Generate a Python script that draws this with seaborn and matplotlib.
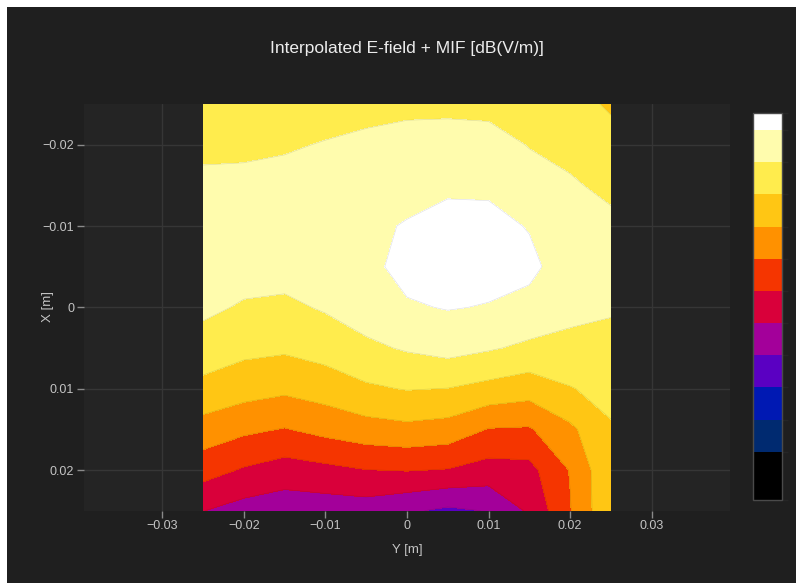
import numpy as np
import seaborn as sns
import matplotlib.pyplot as plt
from matplotlib.colors import ListedColormap, BoundaryNorm
from matplotlib.colorbar import ColorbarBase
from matplotlib.patches import Rectangle
from matplotlib.ticker import FuncFormatter

# grid positions (m)
y_pos = [-0.025, -0.02, -0.015, -0.01, -0.005, 0.0, 0.005, 0.01, 0.015, 0.02, 0.025]
x_pos = [-0.025, -0.02, -0.015, -0.01, -0.005, 0.0, 0.005, 0.01, 0.015, 0.02, 0.025]

# E-field + MIF [dB(V/m)], rows follow x_pos, columns follow y_pos
field = [
    [118.6, 118.6, 118.55, 118.6, 118.7, 118.8, 118.8, 118.7, 118.5, 118.4, 117.85],
    [118.8, 118.8, 118.9, 119.05, 119.2, 119.3, 119.35, 119.4, 118.95, 118.75, 118.4],
    [119.2, 119.25, 119.3, 119.45, 119.6, 119.75, 119.85, 119.85, 119.45, 119.1, 118.8],
    [119.5, 119.5, 119.55, 119.7, 119.85, 120.05, 120.3, 120.25, 119.95, 119.5, 119.2],
    [119.5, 119.4, 119.4, 119.6, 119.75, 120.3, 120.4, 120.35, 120.2, 119.55, 119.35],
    [119.2, 118.9, 118.8, 119.1, 119.5, 119.9, 120.05, 119.95, 119.75, 119.3, 119.1],
    [118.6, 118.25, 118.15, 118.4, 118.8, 119.1, 119.35, 119.1, 118.8, 118.7, 118.7],
    [117.7, 117.4, 117.2, 117.45, 117.85, 118.05, 117.98, 117.7, 117.45, 117.95, 118.3],
    [116.6, 116.2, 115.95, 116.3, 116.6, 116.75, 116.6, 115.95, 115.9, 116.8, 117.9],
    [115.4, 114.9, 114.55, 114.75, 114.98, 115.05, 114.95, 114.6, 114.7, 116.05, 117.9],
    [114.02, 113.6, 113.4, 113.45, 113.5, 113.15, 112.8, 113.05, 114.15, 115.95, 117.9],
]

contour_levels = [110, 111, 112, 113, 114, 115, 116, 117, 118, 119, 120]
z_min, z_max = 108.5, 120.53

level_colors = ["#000000", "#002a70", "#0019b3", "#5a00c2", "#a3009a", "#d9003a",
                "#f53500", "#ff9100", "#ffc614", "#ffec4d", "#fffcad", "#ffffff"]

ticks = [-0.03, -0.02, -0.01, 0.0, 0.01, 0.02, 0.03]

bg_outer = "#1f1f1f"
bg_plot = "#242424"
grid_col = "#363636"
text_col = "#c4c4c4"

sns.set_theme(style="dark", rc={
    "axes.facecolor": bg_plot,
    "figure.facecolor": "white",
    "axes.edgecolor": bg_plot,
    "grid.color": grid_col,
})
plt.rcParams["font.family"] = ["Liberation Sans", "DejaVu Sans"]

fig = plt.figure(figsize=(7.96, 5.83), dpi=100)
fig.patches.append(Rectangle((7 / 796, 0), 1, 1 - 7 / 583, transform=fig.transFigure,
                             facecolor=bg_outer, edgecolor="none", zorder=-10))

ax = fig.add_axes([84 / 796, 1 - 510.7 / 583, 646 / 796, 406.7 / 583])
ax.set_facecolor(bg_plot)

Y, X = np.meshgrid(y_pos, x_pos)
Z = np.array(field)
fill_levels = [100] + contour_levels + [130]
ax.contourf(Y, X, Z, levels=fill_levels, colors=level_colors, zorder=2)
ax.contour(Y, X, Z, levels=contour_levels, colors="k", linewidths=0.5, alpha=0.12, zorder=3)

ax.set_xlim(-0.0396, 0.0396)
ax.set_ylim(0.025, -0.025)
ax.set_xticks(ticks)
ax.set_yticks([t for t in ticks if abs(t) < 0.025])
fmt = FuncFormatter(lambda v, p: "0" if abs(v) < 1e-9 else f"{v:g}".replace("-", "\u2212"))
ax.xaxis.set_major_formatter(fmt)
ax.yaxis.set_major_formatter(fmt)
ax.grid(True, color=grid_col, linewidth=1, zorder=0)
ax.set_axisbelow(True)
for s in ax.spines.values():
    s.set_visible(False)
ax.tick_params(axis="both", which="both", direction="out", length=5, width=1,
               color="#8a8a8a", labelcolor=text_col, labelsize=9, pad=2,
               bottom=True, left=True)

fig.text(407 / 796, 1 - 550 / 583, "Y [m]", ha="center", va="center", color=text_col, fontsize=9.5)
fig.text(48 / 796, 1 - 307 / 583, "X [m]", ha="center", va="center", color=text_col,
         fontsize=9.5, rotation=90)
fig.text(407 / 796, 1 - 49 / 583, "Interpolated E-field + MIF [dB(V/m)]", ha="center",
         va="center", color="#ececec", fontsize=12.5)

cax = fig.add_axes([753 / 796, 1 - 500 / 583, 29 / 796, 387 / 583])
bounds = [z_min] + contour_levels + [z_max]
cb = ColorbarBase(cax, cmap=ListedColormap(level_colors), norm=BoundaryNorm(bounds, 12),
                  boundaries=bounds, spacing="proportional", orientation="vertical")
cb.set_ticks([])
cb.outline.set_edgecolor("#4a4a4a")
cb.outline.set_linewidth(1)

fig.savefig("out.png", dpi=100)
